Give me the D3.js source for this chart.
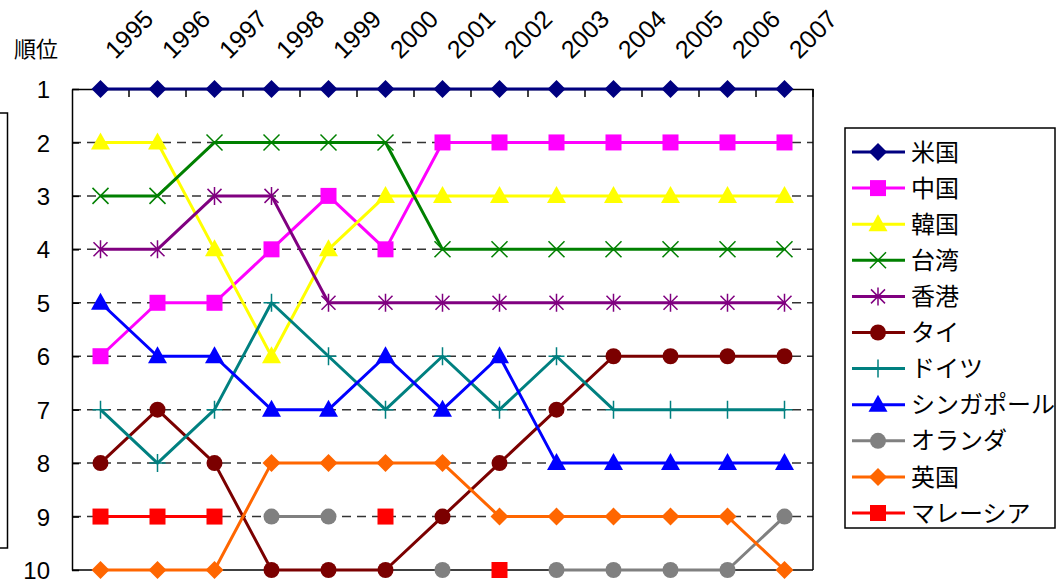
<!DOCTYPE html>
<html><head><meta charset="utf-8">
<script src="https://cdn.jsdelivr.net/npm/d3@7"></script>
<style>
body{margin:0;background:#fff}
svg{display:block}
text{font-family:"Liberation Sans","Noto Sans CJK JP",sans-serif;fill:#000}
</style>
</head><body>
<svg id="c" width="1056" height="581"></svg>
<script>
const years = [1995,1996,1997,1998,1999,2000,2001,2002,2003,2004,2005,2006,2007];
const rankTicks = [1,2,3,4,5,6,7,8,9,10];
const usa       = [1,1,1,1,1,1,1,1,1,1,1,1,1];
const china     = [6,5,5,4,3,4,2,2,2,2,2,2,2];
const korea     = [2,2,4,6,4,3,3,3,3,3,3,3,3];
const taiwan    = [3,3,2,2,2,2,4,4,4,4,4,4,4];
const hongkong  = [4,4,3,3,5,5,5,5,5,5,5,5,5];
const thailand  = [8,7,8,10,10,10,9,8,7,6,6,6,6];
const germany   = [7,8,7,5,6,7,6,7,6,7,7,7,7];
const singapore = [5,6,6,7,7,6,7,6,8,8,8,8,8];
const netherlands = [null,null,null,9,9,null,10,null,10,10,10,10,9];
const uk        = [10,10,10,8,8,8,8,9,9,9,9,9,10];
const malaysia  = [9,9,9,null,null,9,null,10,null,null,null,null,null];

const seriesNames   = ["米国","中国","韓国","台湾","香港","タイ","ドイツ","シンガポール","オランダ","英国","マレーシア"];
const seriesValues  = [usa,china,korea,taiwan,hongkong,thailand,germany,singapore,netherlands,uk,malaysia];
const seriesColors  = ["#000080","#FF00FF","#FFFF00","#008000","#800080","#7B0000","#008080","#0000FF","#808080","#FF6600","#FF0000"];
const seriesMarkers = ["diamond","square","triangle","x","star","circle","plus","triangle","circle","diamond","square"];
const yTitle = "順位";

const svg = d3.select("#c");
const L = 72, R = 813, T = 89, B = 570;
const x = d3.scaleBand().domain(years).range([L, R]).paddingInner(0).paddingOuter(0);
const cx = d => x(d) + x.bandwidth()/2;
const y = d3.scaleLinear().domain([1,10]).range([T, B]);

// partial text-box frame at far left
svg.append("rect").attr("x",-20).attr("y",113).attr("width",27.5).attr("height",435)
  .attr("fill","none").attr("stroke","#000").attr("stroke-width",1.5);

// gridlines
svg.append("g").selectAll("line").data(rankTicks.filter(r => r>1 && r<10)).join("line")
  .attr("x1",L).attr("x2",R).attr("y1",d=>y(d)).attr("y2",d=>y(d))
  .attr("stroke","#333").attr("stroke-width",1.5).attr("stroke-dasharray","9,6");

// borders right & bottom
svg.append("line").attr("x1",R).attr("x2",R).attr("y1",T).attr("y2",B).attr("stroke","#000").attr("stroke-width",1.5);
svg.append("line").attr("x1",L).attr("x2",R).attr("y1",B).attr("y2",B).attr("stroke","#000").attr("stroke-width",1.5);

// top axis
const xAxis = svg.append("g").attr("transform",`translate(0,${T})`)
  .call(d3.axisTop(x).tickSizeInner(-8).tickSizeOuter(0).tickPadding(0));
xAxis.select(".domain").attr("stroke","#000").attr("stroke-width",1.5);
xAxis.selectAll(".tick line").attr("stroke","#000").attr("stroke-width",1.5)
  .attr("transform",`translate(${x.bandwidth()/2},0)`);
xAxis.selectAll(".tick text")
  .attr("font-size",25).attr("text-anchor","start").attr("dy",null)
  .attr("transform","translate(15,-29) rotate(-45)").attr("x",0).attr("y",0);

// left axis
const yAxis = svg.append("g").attr("transform",`translate(${L},0)`)
  .call(d3.axisLeft(y).tickValues(rankTicks).tickFormat(d3.format("d")).tickSizeInner(-7).tickSizeOuter(0).tickPadding(22));
yAxis.select(".domain").attr("stroke","#000").attr("stroke-width",1.5);
yAxis.selectAll(".tick line").attr("stroke","#000").attr("stroke-width",1.5);
yAxis.selectAll(".tick text").attr("font-size",24).attr("dy","0.36em");

svg.append("text").attr("x",14).attr("y",57).attr("font-size",22).text(yTitle);

// markers
function marker(sel, type, color){
  if(type==="diamond") sel.append("path").attr("d","M0,-9L9,0L0,9L-9,0Z").attr("fill",color);
  else if(type==="square") sel.append("rect").attr("x",-8).attr("y",-8).attr("width",16).attr("height",16).attr("fill",color);
  else if(type==="triangle") sel.append("path").attr("d","M0,-10L9.5,7L-9.5,7Z").attr("fill",color);
  else if(type==="circle") sel.append("circle").attr("r",8).attr("fill",color);
  else if(type==="x") sel.append("path").attr("d","M-8,-8L8,8M-8,8L8,-8").attr("stroke",color).attr("stroke-width",1.5).attr("fill","none");
  else if(type==="star") sel.append("path").attr("d","M-7,-7L7,7M-7,7L7,-7M0,-9L0,9").attr("stroke",color).attr("stroke-width",1.5).attr("fill","none");
  else if(type==="plus") sel.append("path").attr("d","M0,-9L0,9M-8,0L8,0").attr("stroke",color).attr("stroke-width",1.5).attr("fill","none");
}

const line = d3.line().defined(d => d.v != null).x(d => cx(d.year)).y(d => y(d.v));
seriesValues.forEach((vals, i) => {
  const pts = years.map((yr, j) => ({year: yr, v: vals[j]}));
  const g = svg.append("g");
  g.append("path").datum(pts).attr("d", line).attr("fill","none")
    .attr("stroke", seriesColors[i]).attr("stroke-width",3).attr("stroke-linejoin","round");
  pts.filter(p => p.v != null).forEach(p => {
    const m = g.append("g").attr("transform",`translate(${cx(p.year)},${y(p.v)})`);
    marker(m, seriesMarkers[i], seriesColors[i]);
  });
});

// legend
const lg = svg.append("g");
lg.append("rect").attr("x",845).attr("y",128).attr("width",210).attr("height",400)
  .attr("fill","#fff").attr("stroke","#000").attr("stroke-width",1.5);
seriesNames.forEach((n, i) => {
  const yy = 152 + i*36.1;
  const e = lg.append("g");
  e.append("line").attr("x1",852).attr("x2",905).attr("y1",yy).attr("y2",yy)
    .attr("stroke",seriesColors[i]).attr("stroke-width",3);
  marker(e.append("g").attr("transform",`translate(878,${yy})`), seriesMarkers[i], seriesColors[i]);
  e.append("text").attr("x",911).attr("y",yy).attr("dy","0.36em").attr("font-size",24).text(n);
});
</script>
</body></html>
